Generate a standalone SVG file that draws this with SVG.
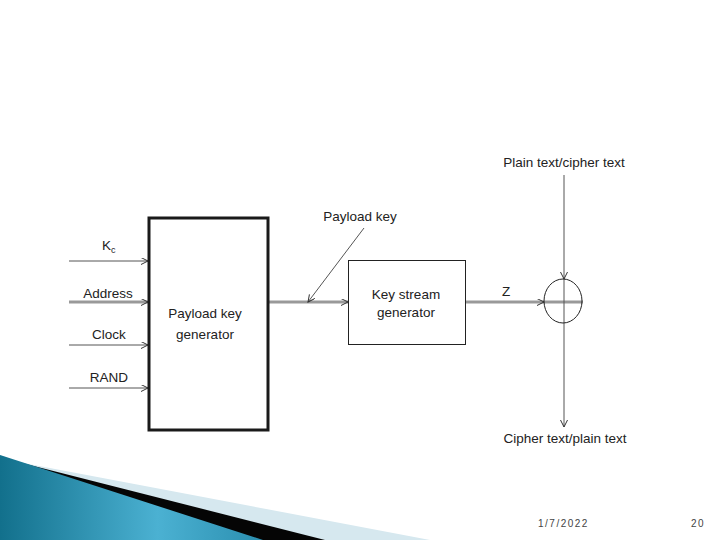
<svg xmlns="http://www.w3.org/2000/svg" width="720" height="540" viewBox="0 0 720 540">
<defs>
<marker id="arr" markerUnits="userSpaceOnUse" markerWidth="10" markerHeight="10" refX="7" refY="3.5" orient="auto">
<path d="M0,0 L7,3.5 L0,7" fill="none" stroke="#333" stroke-width="1"/>
</marker>
<linearGradient id="blue" x1="0" y1="0" x2="1" y2="0">
<stop offset="0" stop-color="#12708c"/>
<stop offset="0.6" stop-color="#4bb1d2"/>
<stop offset="1" stop-color="#2b8fb0"/>
</linearGradient>
</defs>
<style>
text{font-family:"Liberation Sans",Arial,sans-serif;font-size:13.5px;fill:#222}
.thin{stroke:#555;stroke-width:1;fill:none}
.thick{stroke:#999;stroke-width:3;fill:none}
.foot{font-size:10px;fill:#444;letter-spacing:1.5px}
</style>
<rect width="720" height="540" fill="#fff"/>
<g id="decoration">
<polygon points="18,462 430,540 0,540 0,455" fill="#d6e8ef"/>
<polygon points="18,462 325,540 0,540" fill="#050505"/>
<polygon points="0,455 263,540 0,540" fill="url(#blue)"/>
</g>
<g id="connectors">
<line class="thin" x1="69" y1="261" x2="148" y2="261" marker-end="url(#arr)"/>
<line class="thick" x1="69" y1="302" x2="148" y2="302" marker-end="url(#arr)"/>
<line class="thin" x1="69" y1="345" x2="148" y2="345" marker-end="url(#arr)"/>
<line class="thin" x1="69" y1="388" x2="148" y2="388" marker-end="url(#arr)"/>
<line class="thick" x1="268" y1="302" x2="348" y2="302" marker-end="url(#arr)"/>
<line class="thick" x1="466" y1="302" x2="583" y2="302"/>
<line class="thin" x1="466" y1="302" x2="544" y2="302" stroke-opacity="0" marker-end="url(#arr)"/>
<line class="thin" x1="364" y1="228" x2="308" y2="302" marker-end="url(#arr)"/>
<line class="thin" x1="564" y1="175" x2="564" y2="279" marker-end="url(#arr)"/>
<line class="thin" x1="564" y1="279" x2="564" y2="427" marker-end="url(#arr)"/>
</g>
<g id="payload-key-generator">
<rect x="149" y="218" width="119" height="212" fill="none" stroke="#1a1a1a" stroke-width="3"/>
<text x="205" y="318" text-anchor="middle">Payload key</text>
<text x="205" y="339" text-anchor="middle">generator</text>
</g>
<g id="key-stream-generator">
<rect x="348.5" y="260.5" width="117" height="84" fill="#fff" stroke="#222" stroke-width="1"/>
<text x="406" y="299" text-anchor="middle">Key stream</text>
<text x="406" y="317" text-anchor="middle">generator</text>
</g>
<g id="xor">
<ellipse cx="563" cy="301" rx="19" ry="22" fill="none" stroke="#222" stroke-width="1"/>
</g>
<g id="labels">
<text x="102" y="250">K<tspan font-size="9" dy="3">c</tspan></text>
<text x="108" y="298" text-anchor="middle">Address</text>
<text x="109" y="339" text-anchor="middle">Clock</text>
<text x="109" y="382" text-anchor="middle">RAND</text>
<text x="360" y="221" text-anchor="middle">Payload key</text>
<text x="502" y="296">Z</text>
<text x="564" y="167" text-anchor="middle">Plain text/cipher text</text>
<text x="565" y="443" text-anchor="middle">Cipher text/plain text</text>
<text class="foot" x="538" y="527">1/7/2022</text>
<text class="foot" x="691" y="527">20</text>
</g>
</svg>
